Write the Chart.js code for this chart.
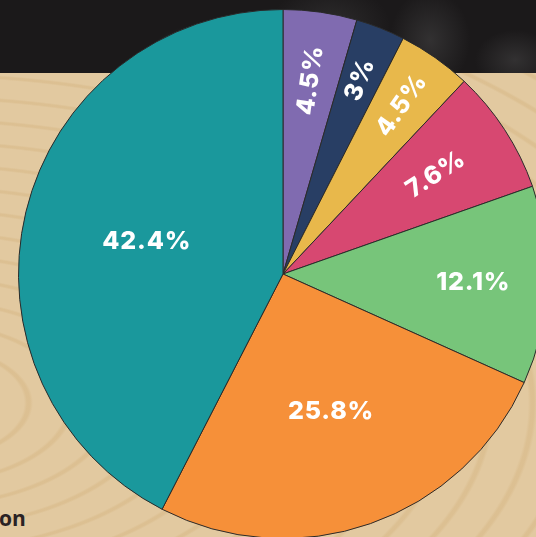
<!DOCTYPE html>
<html>
<head>
<meta charset="utf-8">
<script src="https://cdn.jsdelivr.net/npm/chart.js@4/dist/chart.umd.min.js"></script>
<style>
  html, body { margin: 0; padding: 0; width: 536px; height: 537px; overflow: hidden; }
  body { position: relative; background: #e2c9a0; }
  #wood {
    position: absolute; left: 0; top: 73px; width: 536px; height: 464px;
    background:
      repeating-radial-gradient(ellipse at -80px 330px, rgba(0,0,0,0) 0 20px, rgba(205,168,110,0.28) 23px 26px, rgba(0,0,0,0) 29px 42px),
      #e2c9a0;
  }
  #band {
    position: absolute; left: 0; top: 0; width: 536px; height: 73px;
    background:
      radial-gradient(ellipse 50px 30px at 200px 55px, rgba(120,120,120,0.3), rgba(0,0,0,0)),
      radial-gradient(ellipse 60px 40px at 330px 25px, rgba(120,120,120,0.2), rgba(0,0,0,0)),
      radial-gradient(ellipse 40px 50px at 430px 40px, rgba(120,120,120,0.25), rgba(0,0,0,0)),
      radial-gradient(ellipse 40px 30px at 515px 60px, rgba(120,120,120,0.25), rgba(0,0,0,0)),
      #1b191a;
  }
  #note {
    position: absolute; left: -1px; top: 504px;
    font: bold 21px "Open Sans", sans-serif; color: #2a2224;
  }
  #myChart { position: absolute; left: 18px; top: 9px; }
</style>
</head>
<body>
<div id="band"></div>
<div id="wood"></div>
<div id="note">on</div>
<canvas id="myChart" width="530" height="530"></canvas>
<script>
// slices clockwise from 12 o'clock
var shares = [4.5, 3, 4.5, 7.6, 12.1, 25.8, 42.4];
var sliceNames = ['Purple', 'Navy', 'Yellow', 'Pink', 'Green', 'Orange', 'Teal'];
var sliceColors = ['#806bb0', '#283e64', '#e8b84b', '#d74871', '#77c57a', '#f69039', '#1a989c'];

// draws the % labels inside the slices
var sliceLabels = {
    id: 'sliceLabels',
    afterDatasetsDraw: function (chart, args, opts) {
        var ctx = chart.ctx;
        var meta = chart.getDatasetMeta(0);
        var values = chart.data.datasets[0].data;
        meta.data.forEach(function (arc, i) {
            var p = arc.getProps(['x', 'y', 'startAngle', 'endAngle', 'outerRadius'], true);
            var mid = (p.startAngle + p.endAngle) / 2;
            var r = p.outerRadius * opts.dist[i];
            ctx.save();
            ctx.translate(p.x + Math.cos(mid) * r, p.y + Math.sin(mid) * r);
            if (opts.rotate[i]) ctx.rotate(mid);
            ctx.font = '800 25px Inter, sans-serif';
            ctx.letterSpacing = '0.8px';
            ctx.fillStyle = '#ffffff';
            ctx.textAlign = 'center';
            ctx.textBaseline = 'middle';
            ctx.fillText(values[i] + '%', 0, 0);
            ctx.restore();
        });
    }
};

var ctx = document.getElementById('myChart').getContext('2d');
var chart = new Chart(ctx, {
    type: 'pie',
    data: {
        labels: sliceNames,
        datasets: [{
            data: shares,
            backgroundColor: sliceColors,
            borderColor: '#2a2a2a',
            borderWidth: 1
        }]
    },
    options: {
        responsive: false,
        animation: false,
        layout: { padding: 0 },
        plugins: {
            legend: { display: false },
            tooltip: { enabled: false },
            sliceLabels: {
                dist: [0.74, 0.79, 0.78, 0.69, 0.72, 0.55, 0.53],
                rotate: [true, true, true, true, false, false, false]
            }
        }
    },
    plugins: [sliceLabels]
});
</script>
</body>
</html>
